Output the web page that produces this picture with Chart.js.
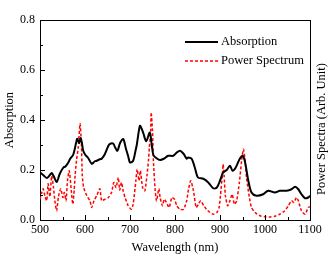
<!DOCTYPE html>
<html>
<head>
<meta charset="utf-8">
<script src="https://cdn.jsdelivr.net/npm/chart.js@4/dist/chart.umd.min.js"></script>
<style>
  body { margin: 0; background: #fff; }
</style>
</head>
<body>
<canvas id="myChart" width="333" height="260"></canvas>
<script>
// absorption curve (black)
const absWl = [500,507,515,522,526,530,537,544,552,556,563,567,574,581,583,587,590,593,596,601,607,615,622,626,633,637,644,652,656,663,667,672,678,685,691,696,700,707,712,715,722,726,730,736,744,748,752,759,767,775,785,796,804,811,819,826,829,837,844,851,863,874,885,893,900,907,915,922,928,935,944,950,955,963,970,981,996,1007,1022,1033,1048,1059,1067,1074,1081,1089,1096,1100];
const absVal = [0.19,0.18,0.168,0.18,0.188,0.177,0.152,0.185,0.21,0.213,0.23,0.245,0.262,0.315,0.325,0.307,0.328,0.31,0.277,0.26,0.248,0.225,0.235,0.237,0.243,0.245,0.263,0.297,0.305,0.305,0.29,0.277,0.308,0.324,0.285,0.255,0.23,0.237,0.275,0.3,0.377,0.365,0.345,0.315,0.35,0.305,0.26,0.247,0.24,0.245,0.257,0.257,0.27,0.277,0.265,0.245,0.25,0.245,0.21,0.17,0.165,0.15,0.127,0.13,0.157,0.19,0.2,0.217,0.197,0.21,0.245,0.257,0.237,0.157,0.11,0.097,0.103,0.117,0.11,0.117,0.117,0.123,0.133,0.123,0.103,0.087,0.09,0.097];

// power spectrum (red dashed)
const psWl = [500,504,507,511,515,518,522,526,530,533,537,541,546,551,554,558,561,565,570,573,576,578,581,585,589,592,594,597,604,611,615,620,626,633,637,644,652,659,664,669,674,677,681,685,689,696,703,707,713,716,720,723,728,733,738,741,743,746,747,750,752,756,759,764,767,772,776,781,787,793,799,804,811,819,826,830,835,841,847,852,857,864,870,878,885,893,898,901,905,907,909,912,917,922,927,932,937,943,948,952,955,959,965,970,978,989,1000,1010,1022,1033,1044,1052,1059,1064,1070,1074,1081,1089,1096,1100];
const psVal = [0.083,0.11,0.125,0.095,0.077,0.145,0.093,0.177,0.13,0.077,0.037,0.093,0.125,0.09,0.11,0.077,0.157,0.197,0.11,0.063,0.12,0.177,0.237,0.29,0.385,0.305,0.177,0.13,0.097,0.077,0.05,0.077,0.097,0.125,0.077,0.083,0.09,0.11,0.15,0.13,0.17,0.12,0.15,0.115,0.09,0.057,0.043,0.063,0.157,0.203,0.157,0.197,0.13,0.117,0.183,0.237,0.29,0.357,0.43,0.357,0.237,0.117,0.077,0.125,0.09,0.057,0.083,0.07,0.05,0.09,0.083,0.057,0.043,0.043,0.077,0.123,0.157,0.117,0.05,0.063,0.077,0.057,0.043,0.03,0.023,0.03,0.05,0.097,0.177,0.223,0.18,0.097,0.057,0.077,0.103,0.063,0.077,0.15,0.237,0.283,0.25,0.17,0.093,0.05,0.03,0.017,0.013,0.012,0.015,0.023,0.037,0.057,0.077,0.07,0.09,0.077,0.037,0.023,0.05,0.053];

const seriesNames = ['Absorption', 'Power Spectrum'];
const xTitle = 'Wavelength (nm)';
const yTitle = 'Absorption';
const y2Title = 'Power Spectra (Arb. Unit)';

const serif = 'Liberation Serif';

// inward tick marks, long on labelled ticks
const innerTicks = {
  id: 'innerTicks',
  afterDatasetsDraw(chart) {
    const ctx = chart.ctx;
    const a = chart.chartArea;
    const xs = chart.scales.x, ys = chart.scales.y;
    ctx.save();
    ctx.strokeStyle = '#000';
    ctx.lineWidth = 1;
    ctx.beginPath();
    xs.ticks.forEach(t => {
      const px = Math.round(xs.getPixelForValue(t.value)) + 0.5;
      const len = t.value % 100 === 0 ? 5 : 3;
      ctx.moveTo(px, a.bottom);
      ctx.lineTo(px, a.bottom - len);
    });
    ys.ticks.forEach(t => {
      const py = Math.round(ys.getPixelForValue(t.value)) + 0.5;
      const len = Math.round(t.value * 10) % 2 === 0 ? 5 : 3;
      ctx.moveTo(a.left, py);
      ctx.lineTo(a.left + len, py);
    });
    ctx.stroke();
    ctx.restore();
  }
};

// legend inside the plot + right axis title reading upwards
const extras = {
  id: 'extras',
  afterDraw(chart) {
    const ctx = chart.ctx;
    const a = chart.chartArea;
    ctx.save();
    ctx.font = '12.5px "' + serif + '"';
    ctx.fillStyle = '#000';
    ctx.textBaseline = 'middle';
    chart.data.datasets.forEach((ds, i) => {
      const y = a.top + 22 + i * 19;
      ctx.strokeStyle = ds.borderColor;
      ctx.lineWidth = ds.borderWidth;
      ctx.setLineDash(ds.borderDash || []);
      ctx.beginPath();
      ctx.moveTo(a.right - 125, y);
      ctx.lineTo(a.right - 92, y);
      ctx.stroke();
      ctx.fillText(ds.label, a.right - 89, y);
    });
    ctx.setLineDash([]);
    ctx.translate(322, 129);
    ctx.rotate(-Math.PI / 2);
    ctx.textAlign = 'center';
    ctx.fillText(y2Title, 0, 0);
    ctx.restore();
  }
};

const ctx = document.getElementById('myChart').getContext('2d');
const myChart = new Chart(ctx, {
  type: 'line',
  data: {
    datasets: [{
      label: seriesNames[0],
      data: absWl.map((w, i) => ({x: w, y: absVal[i]})),
      borderColor: '#000000',
      borderWidth: 2,
      pointRadius: 0,
      tension: 0.3
    }, {
      label: seriesNames[1],
      data: psWl.map((w, i) => ({x: w, y: psVal[i]})),
      borderColor: '#ff0000',
      borderWidth: 1.5,
      borderDash: [3, 2],
      pointRadius: 0,
      tension: 0.2
    }]
  },
  options: {
    responsive: false,
    animation: false,
    layout: { padding: 0 },
    plugins: {
      legend: { display: false },
      tooltip: { enabled: false }
    },
    scales: {
      x: {
        type: 'linear',
        position: 'bottom',
        min: 500,
        max: 1100,
        afterFit: s => { s.height = 40; },
        grid: { drawOnChartArea: false, drawTicks: false },
        border: { color: '#000', width: 1 },
        ticks: {
          stepSize: 50,
          autoSkip: false,
          maxRotation: 0,
          padding: 3,
          color: '#000',
          font: { family: serif, size: 12 },
          callback: v => (v % 100 === 0 ? v : '')
        },
        title: {
          display: true,
          text: xTitle,
          color: '#000',
          font: { family: serif, size: 12.5 },
          padding: { top: 0, bottom: 5 }
        }
      },
      x2: {
        type: 'linear',
        position: 'top',
        min: 500,
        max: 1100,
        afterFit: s => { s.height = 20; },
        grid: { drawOnChartArea: false, drawTicks: false },
        border: { color: '#000', width: 1 },
        ticks: { display: false }
      },
      y: {
        position: 'left',
        min: 0,
        max: 0.8,
        afterFit: s => { s.width = 40; },
        grid: { drawOnChartArea: false, drawTicks: false },
        border: { color: '#000', width: 1 },
        ticks: {
          stepSize: 0.1,
          autoSkip: false,
          padding: 5,
          color: '#000',
          font: { family: serif, size: 12 },
          callback: v => (Math.round(v * 10) % 2 === 0 ? v.toFixed(1) : '')
        },
        title: {
          display: true,
          text: yTitle,
          color: '#000',
          font: { family: serif, size: 12.5 },
          padding: { top: 2.5, bottom: 0 }
        }
      },
      y2: {
        position: 'right',
        min: 0,
        max: 0.8,
        afterFit: s => { s.width = 23; },
        grid: { drawOnChartArea: false, drawTicks: false },
        border: { color: '#000', width: 1 },
        ticks: { display: false }
      }
    }
  },
  plugins: [innerTicks, extras]
});
</script>
</body>
</html>
